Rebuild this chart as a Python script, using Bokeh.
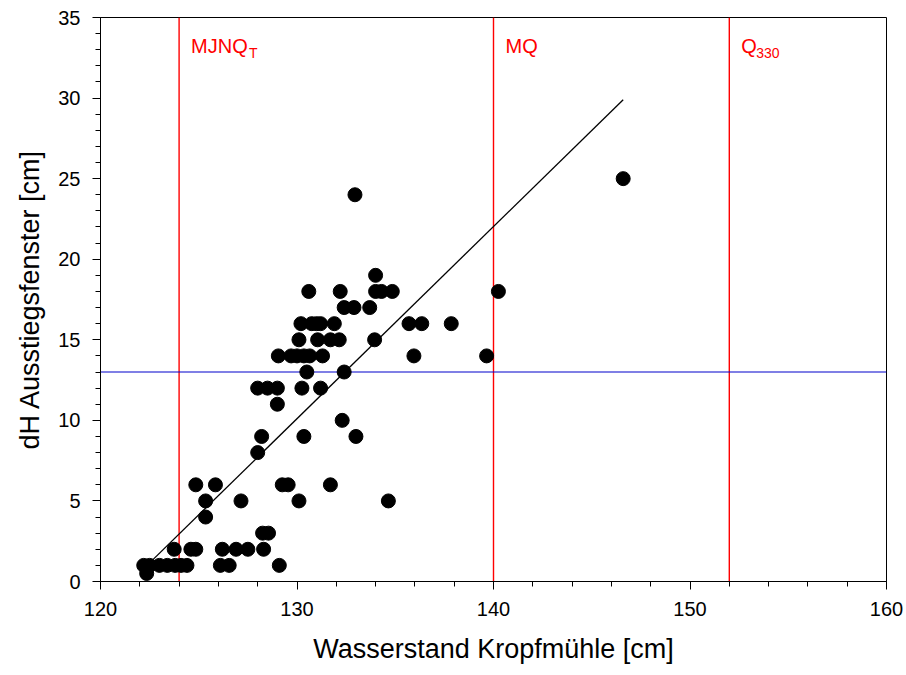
from bokeh.plotting import figure
from bokeh.models import Range1d, FixedTicker
from bokeh.core.properties import value
from bokeh.embed import file_html
from bokeh.resources import INLINE

# ---- data ----
obs_x = [122.35,
         122.2, 122.5, 123.0, 123.4, 123.8, 124.1, 124.4, 126.1, 126.55, 129.1,
         123.75, 124.6, 124.85, 126.2, 126.9, 127.5, 128.3,
         128.25, 128.55,
         125.35,
         125.35, 127.15, 130.1, 134.65,
         124.85, 125.85, 129.25, 129.55, 131.7,
         128.0,
         128.2, 130.35, 133.0,
         132.3,
         129.0,
         128.0, 128.5, 129.0, 130.25, 131.2,
         130.5, 132.4,
         129.05, 129.7, 130.0, 130.35, 130.65, 131.3, 135.95, 139.65,
         130.1, 131.05, 131.7, 132.15, 133.95,
         130.2, 130.75, 131.0, 131.2, 131.9, 135.7, 136.35, 137.85,
         132.4, 132.9, 133.7,
         130.6, 132.2, 134.0, 134.3, 134.85, 140.25,
         134.0,
         132.95,
         146.6]
obs_y = [0.5,
         1, 1, 1, 1, 1, 1, 1, 1, 1, 1,
         2, 2, 2, 2, 2, 2, 2,
         3, 3,
         4,
         5, 5, 5, 5,
         6, 6, 6, 6, 6,
         8,
         9, 9, 9,
         10,
         11,
         12, 12, 12, 12, 12,
         13, 13,
         14, 14, 14, 14, 14, 14, 14, 14,
         15, 15, 15, 15, 15,
         16, 16, 16, 16, 16, 16, 16, 16,
         17, 17, 17,
         18, 18, 18, 18, 18, 18,
         19,
         24,
         25]

fit_x = [122.2, 146.6]
fit_y = [0.8, 29.9]

ref_levels = [124, 140, 152]           # MJNQ_T, MQ, Q330
ref_main = ["MJNQ", "MQ", "Q"]
ref_sub = ["T", "", "330"]
threshold_dh = 13

x_min, x_max = 120, 160
y_min, y_max = 0, 35
x_ticks = [120, 130, 140, 150, 160]
y_ticks = [0, 5, 10, 15, 20, 25, 30, 35]

FONT = "Liberation Sans"

p = figure(width=906, height=675, output_backend="svg", toolbar_location=None,
           x_range=Range1d(x_min, x_max), y_range=Range1d(y_min, y_max),
           min_border_left=100, min_border_right=20,
           min_border_top=17, min_border_bottom=94)
p.background_fill_color = "white"
p.border_fill_color = "white"
p.outline_line_color = "black"
p.outline_line_width = 1
p.xgrid.visible = False
p.ygrid.visible = False

p.xaxis.ticker = FixedTicker(ticks=x_ticks, minor_ticks=list(range(120, 161, 2)))
p.yaxis.ticker = FixedTicker(ticks=y_ticks, minor_ticks=list(range(0, 36, 1)))
for ax in (p.xaxis, p.yaxis):
    ax.axis_line_color = "black"
    ax.major_tick_line_color = "black"
    ax.minor_tick_line_color = "black"
    ax.major_tick_out = 8
    ax.major_tick_in = 0
    ax.minor_tick_out = 5
    ax.minor_tick_in = 0
    ax.major_label_text_font = FONT
    ax.major_label_text_font_size = "20px"
    ax.major_label_text_color = "black"
    ax.axis_label_text_font = FONT
    ax.axis_label_text_font_size = "27px"
    ax.axis_label_text_font_style = "normal"
    ax.axis_label_text_color = "black"
    ax.major_label_standoff = 12
p.xaxis.axis_label = "Wasserstand Kropfmühle [cm]"
p.yaxis.axis_label = "dH Ausstiegsfenster [cm]"
p.xaxis.axis_label_standoff = 15
p.yaxis.axis_label_standoff = 10

# reference lines
p.segment(x0=ref_levels, y0=[y_min] * 3, x1=ref_levels, y1=[y_max] * 3,
          line_color="#ff0000", line_width=1.4)
p.segment(x0=[x_min], y0=[threshold_dh], x1=[x_max], y1=[threshold_dh],
          line_color="#0000cc", line_width=1.2)

p.line(fit_x, fit_y, line_color="black", line_width=1.3)
p.scatter(obs_x, obs_y, size=14, fill_color="black", line_color="black")

top = [y_max] * len(ref_levels)
p.text(x=ref_levels, y=top, text=ref_main, x_offset=12, y_offset=28,
       text_font=value(FONT), text_font_size="20px", text_color="#ff0000",
       text_baseline="alphabetic", text_align="left")
sub_off = [70, 0, 27]
for lv, s, off in zip(ref_levels, ref_sub, sub_off):
    if s:
        p.text(x=[lv], y=[y_max], text=[s], x_offset=off, y_offset=35,
               text_font=value(FONT), text_font_size="14px", text_color="#ff0000",
               text_baseline="alphabetic", text_align="left")

open("out.html", "w").write(file_html(p, INLINE))
